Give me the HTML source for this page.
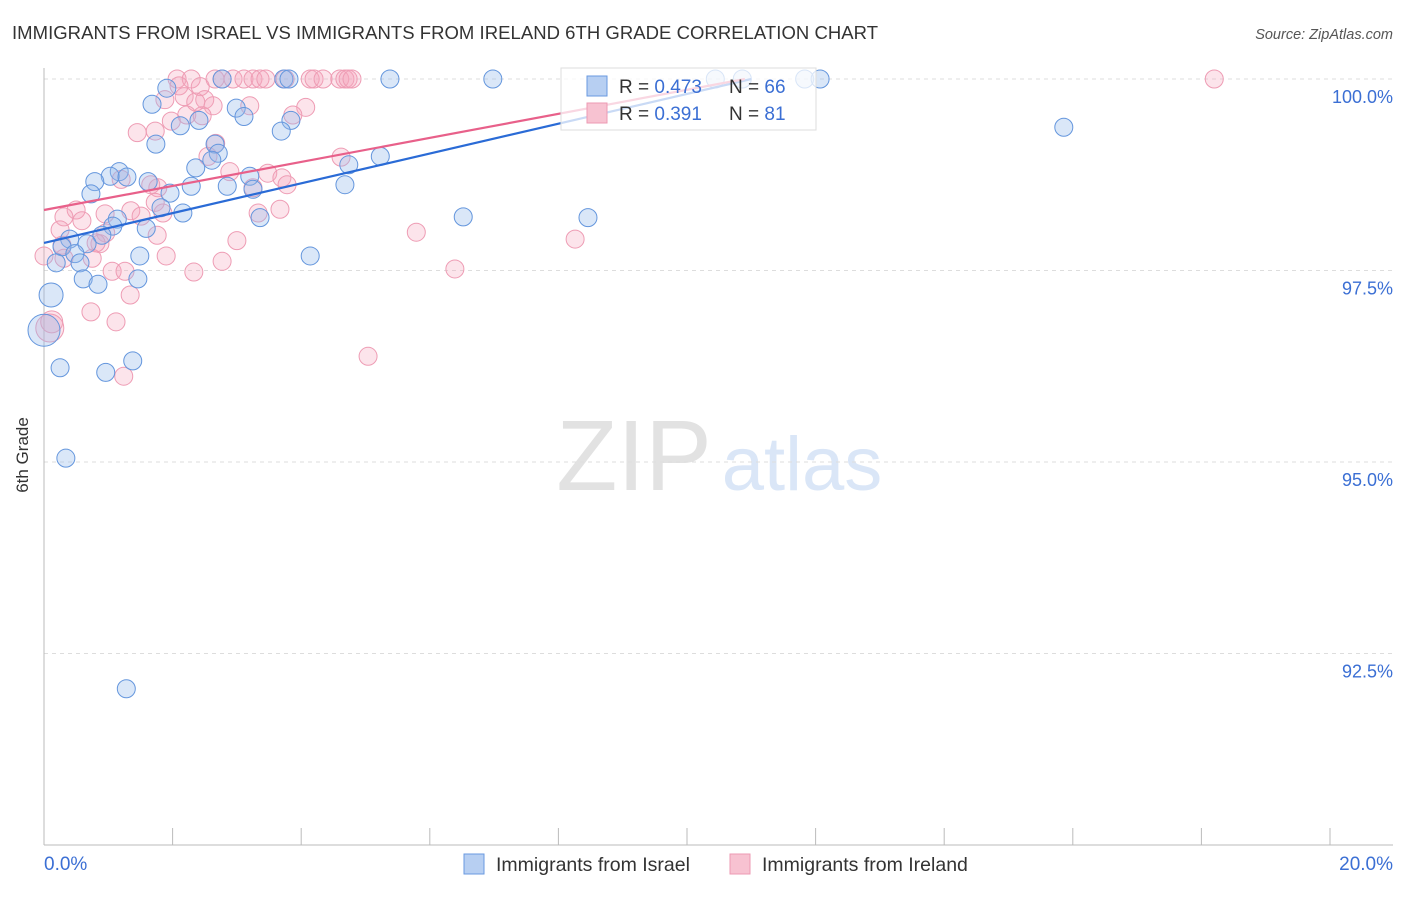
<!DOCTYPE html>
<html><head><meta charset="utf-8">
<style>
body{margin:0;background:#fff;font-family:"Liberation Sans",sans-serif;}
svg text{font-family:"Liberation Sans",sans-serif;}
</style></head>
<body>
<svg id="chart" width="1406" height="892" viewBox="0 0 1406 892" xmlns="http://www.w3.org/2000/svg">
<text x="12" y="39" font-size="18.5" fill="#333" textLength="866">IMMIGRANTS FROM ISRAEL VS IMMIGRANTS FROM IRELAND 6TH GRADE CORRELATION CHART</text>
<text x="1393" y="39" font-size="14.5" fill="#555" font-style="italic" text-anchor="end">Source: ZipAtlas.com</text>
<g>
<text x="634" y="490" font-size="100" fill="#e2e2e2" font-family="Liberation Serif" text-anchor="middle">ZIP</text>
<text x="802" y="490" font-size="76" fill="#dae6f7" text-anchor="middle">atlas</text>
</g>
<g id="grid"></g>
<g id="axes"></g>
<g id="points"></g>
<g id="lines"></g>
<text x="28" y="455" font-size="17" fill="#333" text-anchor="middle" transform="rotate(-90 28 455)">6th Grade</text>
<g>
<rect x="561" y="68" width="255" height="62" fill="#fff" fill-opacity="0.75" stroke="#ddd"/>
<rect x="587" y="76" width="20" height="20" fill="#b7cff2" stroke="#6a9ae0"/>
<rect x="587" y="103" width="20" height="20" fill="#f7c2d1" stroke="#ec9ab3"/>
<text x="619" y="93" font-size="19" fill="#333">R = <tspan fill="#3b6fd4">0.473</tspan></text>
<text x="729" y="93" font-size="19" fill="#333">N = <tspan fill="#3b6fd4">66</tspan></text>
<text x="619" y="120" font-size="19" fill="#333">R = <tspan fill="#3b6fd4"> 0.391</tspan></text>
<text x="729" y="120" font-size="19" fill="#333">N = <tspan fill="#3b6fd4"> 81</tspan></text>
</g>
<g>
<rect x="464" y="854" width="20" height="20" fill="#b7cff2" stroke="#6a9ae0"/>
<text x="496" y="871" font-size="19.5" fill="#333">Immigrants from Israel</text>
<rect x="730" y="854" width="20" height="20" fill="#f7c2d1" stroke="#ec9ab3"/>
<text x="762" y="871" font-size="19.5" fill="#333">Immigrants from Ireland</text>
</g>
</svg>
<script>
const yTicks=[100,97.5,95,92.5];
const yTickLabels=["100.0%","97.5%","95.0%","92.5%"];
const xTicks=[0,2,4,6,8,10,12,14,16,18,20];
const xEndLabels=["0.0%","20.0%"];
const israelPoints=[[2.77,100],[3.73,100],[3.81,100],[5.38,100],[6.98,100],[10.44,100],[10.86,100],[11.83,100],[12.07,100],[1.91,99.88],[1.68,99.67],[2.99,99.62],[3.11,99.51],[2.12,99.39],[2.41,99.46],[3.84,99.46],[3.69,99.32],[15.86,99.37],[1.74,99.15],[2.66,99.15],[2.71,99.03],[2.61,98.94],[5.23,98.99],[4.74,98.88],[2.36,98.84],[1.17,98.79],[1.03,98.73],[1.29,98.72],[3.2,98.73],[0.79,98.66],[1.62,98.66],[2.29,98.6],[2.85,98.6],[3.25,98.56],[4.68,98.62],[1.96,98.51],[0.73,98.5],[1.82,98.32],[2.16,98.25],[3.36,98.19],[6.52,98.2],[8.46,98.19],[1.14,98.17],[1.07,98.08],[1.59,98.05],[0.9,97.96],[0.4,97.91],[0.67,97.85],[0.28,97.81],[0.48,97.72],[1.49,97.69],[4.14,97.69],[0.56,97.6],[0.19,97.6],[0.61,97.39],[1.46,97.39],[0.84,97.32],[0.11,97.18,12],[0.0,96.72,16],[0.25,96.23],[0.96,96.17],[1.38,96.32],[0.34,95.05],[1.28,92.04]];
const irelandPoints=[[2.07,100],[2.29,100],[2.66,100],[2.77,100],[2.94,100],[3.11,100],[3.25,100],[3.36,100],[3.45,100],[3.75,100],[4.14,100],[4.2,100],[4.34,100],[4.6,100],[4.68,100],[4.73,100],[4.79,100],[18.2,100],[2.1,99.91],[1.88,99.73],[2.18,99.77],[2.43,99.9],[2.5,99.73],[2.63,99.65],[2.36,99.7],[2.22,99.53],[1.98,99.45],[2.46,99.52],[3.2,99.65],[4.07,99.63],[3.87,99.53],[1.73,99.32],[1.45,99.3],[2.67,99.16],[2.55,98.99],[4.62,98.98],[3.48,98.77],[2.89,98.79],[3.7,98.71],[3.78,98.62],[1.2,98.69],[1.77,98.58],[1.66,98.62],[3.25,98.58],[1.73,98.39],[0.5,98.29],[0.31,98.2],[0.59,98.15],[0.95,98.24],[1.35,98.28],[1.51,98.21],[1.85,98.25],[3.67,98.3],[3.33,98.25],[0.25,98.03],[0.96,97.99],[0.87,97.85],[0.28,97.83],[0.81,97.86],[0.0,97.69],[0.31,97.66],[0.75,97.66],[1.76,97.96],[5.79,98.0],[8.26,97.91],[3.0,97.89],[1.9,97.69],[1.06,97.49],[1.26,97.49],[2.33,97.48],[2.77,97.62],[6.39,97.52],[1.34,97.18],[0.73,96.96],[1.12,96.83],[0.12,96.83,11],[0.09,96.75,14],[5.04,96.38],[1.24,96.12]];
const israelTrend=[0,97.86,11.0,100];
const irelandTrend=[0,98.29,10.9,100];

const NS="http://www.w3.org/2000/svg";
const X0=44,X1=1330,Y0=845,Y1=79;
function xs(v){return X0+(v-0)/(20-0)*(X1-X0);}
function ys(v){return Y0-(v-90)/(100-90)*(Y0-Y1);}
function mk(tag,attrs,parent){const e=document.createElementNS(NS,tag);for(const k in attrs)e.setAttribute(k,attrs[k]);parent.appendChild(e);return e;}
const grid=document.getElementById('grid'),axes=document.getElementById('axes'),pts=document.getElementById('points'),lines=document.getElementById('lines');
yTicks.forEach((t,i)=>{
  const l=mk('line',{x1:X0,x2:1393,y1:ys(t),y2:ys(t),stroke:'#ddd','stroke-dasharray':'4,4'},grid);
  
  
  const tx=mk('text',{x:1393,y:ys(t)+24,'font-size':18,fill:'#3b6fd4','text-anchor':'end'},axes);
  tx.textContent=yTickLabels[i];
  
  
});
const ya=mk('line',{x1:X0,x2:X0,y1:68,y2:Y0,stroke:'#bbb'},axes);


const xa=mk('line',{x1:X0,x2:1393,y1:Y0,y2:Y0,stroke:'#bbb'},axes);


xTicks.forEach(t=>{
  const l=mk('line',{x1:xs(t),x2:xs(t),y1:828,y2:Y0,stroke:'#bbb'},axes);
  
  
});
const xl0=mk('text',{x:X0,y:870,'font-size':19,fill:'#3b6fd4'},axes);
xl0.textContent=xEndLabels[0];


const xl1=mk('text',{x:1393,y:870,'font-size':19,fill:'#3b6fd4','text-anchor':'end'},axes);
xl1.textContent=xEndLabels[1];


function drawPts(arr,fill,stroke,name){
  arr.forEach(p=>{
    const c=mk('circle',{cx:xs(p[0]),cy:ys(p[1]),r:p[2]||9,fill:fill,stroke:stroke,'stroke-width':1},pts);
    
    
  });
}
drawPts(irelandPoints,'rgba(245,165,188,0.3)','#ee9cb4','ireland-point');
drawPts(israelPoints,'rgba(150,185,235,0.35)','#6496dd','israel-point');
const lb=mk('line',{x1:xs(israelTrend[0]),y1:ys(israelTrend[1]),x2:xs(israelTrend[2]),y2:ys(israelTrend[3]),stroke:'#2a6bd6','stroke-width':2.2},lines);


const lp=mk('line',{x1:xs(irelandTrend[0]),y1:ys(irelandTrend[1]),x2:xs(irelandTrend[2]),y2:ys(irelandTrend[3]),stroke:'#e8608a','stroke-width':2.2},lines);


</script>
</body></html>
